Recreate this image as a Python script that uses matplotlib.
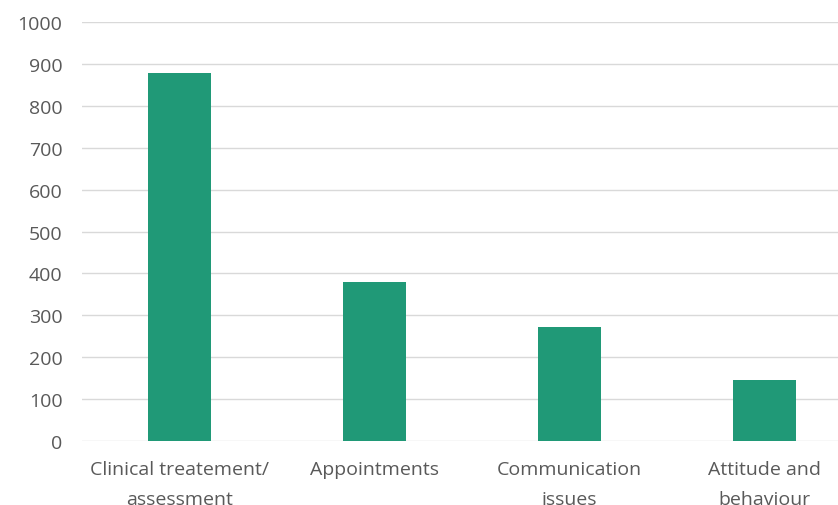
import matplotlib
matplotlib.use("Agg")
import matplotlib.pyplot as plt

categories = ["Clinical treatement/\nassessment", "Appointments",
              "Communication\nissues", "Attitude and\nbehaviour"]
values = [878, 380, 273, 146]
y_ticks = [0, 100, 200, 300, 400, 500, 600, 700, 800, 900, 1000]

plt.rcParams["font.family"] = ["Open Sans", "DejaVu Sans"]

W, H = 838, 506
fig = plt.figure(figsize=(W / 100, H / 100), dpi=100)
x0, x1 = 82, 862
y0, y1 = 442, 23
ax = fig.add_axes([x0 / W, (H - y0) / H, (x1 - x0) / W, (y0 - y1) / H])

ax.bar(range(len(values)), values, width=0.32, color="#209977", zorder=3)
ax.set_xlim(-0.5, len(values) - 0.5)
ax.set_ylim(0, 1000)
ax.set_yticks(y_ticks)
ax.yaxis.grid(True, color="#d9d9d9", linewidth=1.0, zorder=0)
ax.set_xticks(range(len(values)))
ax.set_xticklabels(categories, linespacing=1.8)
ax.tick_params(axis="both", length=0, colors="#595959", labelsize=14)
ax.tick_params(axis="y", pad=14)
ax.tick_params(axis="x", pad=14)
for s in ax.spines.values():
    s.set_visible(False)

fig.savefig("out.png", dpi=100)
